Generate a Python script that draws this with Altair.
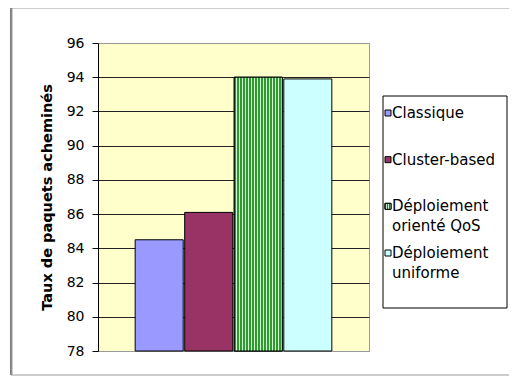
import altair as alt
import pandas as pd

# ---- data ----
categories = ["Classique", "Cluster-based", "Déploiement orienté QoS", "Déploiement uniforme"]
values = [84.5, 86.1, 94.0, 93.9]
colors = ["#9999FF", "#993366", "#339933", "#CCFFFF"]
legend_line1 = ["Classique", "Cluster-based", "Déploiement", "Déploiement"]
legend_line2 = ["", "", "orienté QoS", "uniforme"]
y_ticks = [78, 80, 82, 84, 86, 88, 90, 92, 94, 96]
y_title = "Taux de paquets acheminés"

df = pd.DataFrame({"cat": categories, "val": values, "l1": legend_line1, "l2": legend_line2})
df["base"] = y_ticks[0]

FONT = "DejaVu Sans"
QOS = categories[2]


def stripes(n, c1, c2, frac):
    stops = []
    for i in range(n):
        a, b, c = i / n, (i + frac) / n, (i + 1) / n
        stops += [{"offset": a, "color": c1}, {"offset": b, "color": c1},
                  {"offset": b, "color": c2}, {"offset": c, "color": c2}]
    return {"gradient": "linear", "x1": 0, "x2": 1, "y1": 0, "y2": 0, "stops": stops}


bar_grad = stripes(16, "#2f9a2f", "#d4f5d4", 0.55)
sym_grad = stripes(3, "#1f7a1f", "#c8f0c8", 0.55)

W, H = 271, 308

xenc = alt.X("cat:N", sort=categories,
             scale=alt.Scale(domain=categories, paddingInner=0.03, paddingOuter=0.75),
             axis=None)
yenc = alt.Y("val:Q",
             scale=alt.Scale(domain=[y_ticks[0], y_ticks[-1]], nice=False, zero=False),
             axis=alt.Axis(values=y_ticks, title=y_title, grid=True,
                           gridColor={"condition": {"test": "datum.value == 78 || datum.value == 96",
                                                    "value": "#9a9a9a"}, "value": "#222222"},
                           gridWidth=1, domainColor="#000000", tickColor="#000000",
                           tickSize=6, labelPadding=8, labelFont=FONT, labelFontSize=14,
                           labelColor="#000000", titleFont=FONT, titleFontSize=14.5,
                           titleFontWeight="bold", titleColor="#000000", titlePadding=12,
                           labelFlush=False))
y2enc = alt.Y2("base:Q")
color_enc = alt.Color("cat:N", scale=alt.Scale(domain=categories, range=colors), legend=None)

base = alt.Chart(df)

bars = base.mark_bar(stroke="#000000", strokeWidth=1).encode(
    x=xenc, y=yenc, y2=y2enc, color=color_enc)
qos_bar = base.transform_filter(alt.datum.cat == QOS).mark_bar(
    fill=bar_grad, stroke="#000000", strokeWidth=1).encode(x=xenc, y=yenc, y2=y2enc)
bar_layer = alt.layer(bars, qos_bar)

leg_y = alt.Y("cat:N", sort=categories,
              scale=alt.Scale(type="point", domain=categories, range=[70, 210], padding=0),
              axis=None)

one = alt.Chart(alt.Data(values=[{"k": 1}]))
legend_box = one.mark_rect(fill="#FFFFFF", stroke="#000000", strokeWidth=1).encode(
    x=alt.value(285), x2=alt.value(409), y=alt.value(53), y2=alt.value(265))

symbols = base.mark_point(shape="square", filled=True, size=36, stroke="#000000",
                          strokeWidth=1, opacity=1).encode(
    x=alt.value(290), y=leg_y, color=color_enc)
qos_symbol = base.transform_filter(alt.datum.cat == QOS).mark_point(
    shape="square", filled=True, size=36, fill=sym_grad, stroke="#000000",
    strokeWidth=1, opacity=1).encode(x=alt.value(290), y=leg_y)

text1 = base.mark_text(align="left", baseline="middle", font=FONT, fontSize=15,
                       color="#000000").encode(x=alt.value(294), y=leg_y, text="l1:N")
text2 = base.transform_filter(alt.datum.l2 != "").mark_text(
    align="left", baseline="middle", font=FONT, fontSize=15,
    color="#000000", dy=20).encode(x=alt.value(294), y=leg_y, text="l2:N")

# outer frame
frame_top = one.mark_rule(color="#000000", strokeWidth=1).encode(
    x=alt.value(-87), x2=alt.value(430), y=alt.value(-36))
frame_top2 = one.mark_rule(color="#9a9a9a", strokeWidth=1).encode(
    x=alt.value(-86), x2=alt.value(430), y=alt.value(-35))
frame_left = one.mark_rule(color="#000000", strokeWidth=1).encode(
    x=alt.value(-87), y=alt.value(-36), y2=alt.value(332))
frame_left2 = one.mark_rule(color="#9a9a9a", strokeWidth=1).encode(
    x=alt.value(-86), y=alt.value(-35), y2=alt.value(332))
frame_bottom = one.mark_rule(color="#9a9a9a", strokeWidth=1).encode(
    x=alt.value(-87), x2=alt.value(430), y=alt.value(332))

chart = alt.layer(
    bar_layer,
    legend_box, symbols, qos_symbol, text1, text2,
    frame_top, frame_top2, frame_left, frame_left2, frame_bottom,
).resolve_scale(y="independent").properties(
    width=W, height=H,
    autosize=alt.AutoSizeParams(type="none"),
    padding={"left": 90, "top": 35, "right": 140, "bottom": 25},
    background="#FFFFFF",
).configure_view(fill="#FFFFCC", stroke="#9a9a9a", strokeWidth=1)

chart.save("out.html", embed_options={"renderer": "svg", "actions": False})
